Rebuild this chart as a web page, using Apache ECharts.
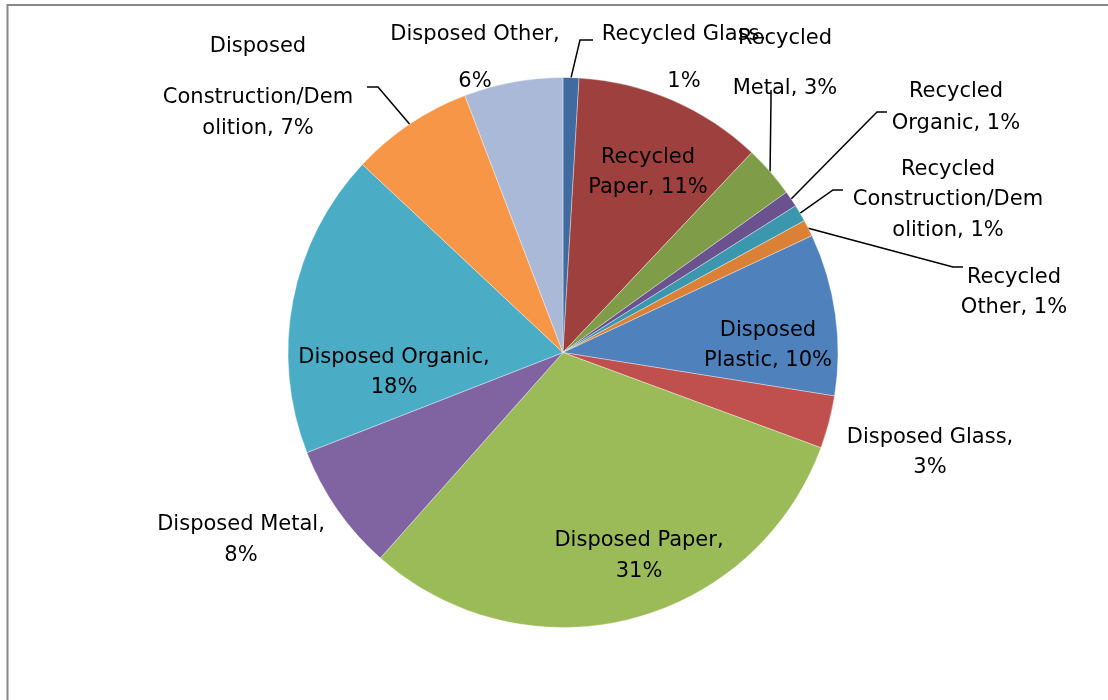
<!DOCTYPE html>
<html>
<head>
<meta charset="utf-8">
<script src="https://cdn.jsdelivr.net/npm/echarts@6/dist/echarts.min.js"></script>
<style>
  html, body { margin: 0; padding: 0; background: #ffffff; }
  #chart { width: 1108px; height: 700px; }
</style>
</head>
<body>
<div id="chart"></div>
<script>
// ---- Data ----
const categories = [
  'Recycled Glass', 'Recycled Paper', 'Recycled Metal', 'Recycled Organic',
  'Recycled Construction/Demolition', 'Recycled Other',
  'Disposed Plastic', 'Disposed Glass', 'Disposed Paper', 'Disposed Metal',
  'Disposed Organic', 'Disposed Construction/Demolition', 'Disposed Other'
];
const values = [0.93, 11.1, 3.05, 0.95, 1.0, 0.97, 9.5, 3.1, 30.9, 7.5, 17.9, 7.2, 5.8];

// Label text as wrapped in the original (%p = rounded percentage)
const labelText = [
  ['Recycled Glass,', '%p'],
  ['Recycled', 'Paper, %p'],
  ['Recycled', 'Metal, %p'],
  ['Recycled', 'Organic, %p'],
  ['Recycled', 'Construction/Dem', 'olition, %p'],
  ['Recycled', 'Other, %p'],
  ['Disposed', 'Plastic, %p'],
  ['Disposed Glass,', '%p'],
  ['Disposed Paper,', '%p'],
  ['Disposed Metal,', '%p'],
  ['Disposed Organic,', '%p'],
  ['Disposed', 'Construction/Dem', 'olition, %p'],
  ['Disposed Other,', '%p']
];

// ---- Styling / layout (kept separate from data) ----
const colors = [
  '#3F6BA0', '#9E413E', '#7F9C48', '#6A528E', '#3B97AE', '#DA8136',
  '#4F81BD', '#C0504D', '#9BBB59', '#8064A2', '#4BACC6', '#F79646', '#A9B9D7'
];
const lineHeights = [
  [47, 47], [30, 30], [50, 50], [32, 32], [30.5, 30.5, 30.5], [30, 30],
  [30, 30], [30, 30], [31, 31], [31, 31], [30, 30], [71, 31, 31], [47, 47]
];
const labelInside = [false, true, false, false, false, false, true, false, true, false, true, false, false];
const showLeader  = [true, false, true, true, true, true, false, false, false, false, false, true, false];
const labelPos = [
  [684, 58], [648, 172.5], [785, 63.5], [956, 107.5], [948, 200], [1014, 292.5],
  [768, 345.5], [930, 453], [639, 556.5], [241, 540.5], [394, 373], [258, 78], [475, 58]
];
// leader line elbow and end points (start comes from the pie's own label line)
const leaderTail = [
  [[580, 40], [593, 40]], null, [[771, 100], [771, 90]], [[877, 112], [887, 112]],
  [[833, 190], [843, 190]], [[953, 267], [963, 267]], null, null, null, null, null,
  [[378, 87], [367, 87]], null
];

const FONT = 'DejaVu Sans';
const FONT_SIZE = 21;

const data = categories.map((name, i) => {
  const rich = {};
  lineHeights[i].forEach((h, k) => {
    rich['l' + k] = { fontFamily: FONT, fontSize: FONT_SIZE, color: '#000', lineHeight: h, align: 'center' };
  });
  return {
    name: name,
    value: values[i],
    itemStyle: { color: colors[i] },
    label: { position: labelInside[i] ? 'inside' : 'outside', rich: rich },
    labelLine: { show: showLeader[i] }
  };
});

const chart = echarts.init(document.getElementById('chart'), null, { renderer: 'canvas' });
chart.setOption({
  backgroundColor: '#ffffff',
  animation: false,
  graphic: [{
    type: 'rect',
    shape: { x: 7.5, y: 5, width: 1300, height: 900 },
    style: { fill: 'none', stroke: '#878787', lineWidth: 2 },
    silent: true,
    z: -10
  }],
  series: [{
    type: 'pie',
    center: [563, 352.5],
    radius: 275,
    startAngle: 90,
    clockwise: true,
    avoidLabelOverlap: false,
    percentPrecision: 2,
    itemStyle: { borderColor: 'rgba(255,255,255,0.45)', borderWidth: 0.8 },
    label: {
      show: true,
      color: '#000',
      fontFamily: FONT,
      fontSize: FONT_SIZE,
      overflow: 'none',
      formatter: function (p) {
        const pct = Math.round(p.percent) + '%';
        return labelText[p.dataIndex]
          .map((t, k) => '{l' + k + '|' + t.replace('%p', pct) + '}')
          .join('\n');
      }
    },
    labelLine: {
      show: true,
      length: 10,
      length2: 10,
      lineStyle: { color: '#000', width: 1.5 }
    },
    labelLayout: function (params) {
      const i = params.dataIndex;
      const pos = labelPos[i];
      const out = { x: pos[0], y: pos[1], align: 'center', verticalAlign: 'middle' };
      const tail = leaderTail[i];
      if (tail && params.labelLinePoints && params.labelLinePoints[0]) {
        out.labelLinePoints = [params.labelLinePoints[0].slice(), tail[0], tail[1]];
      }
      return out;
    },
    emphasis: { disabled: true },
    data: data
  }]
});
</script>
</body>
</html>
